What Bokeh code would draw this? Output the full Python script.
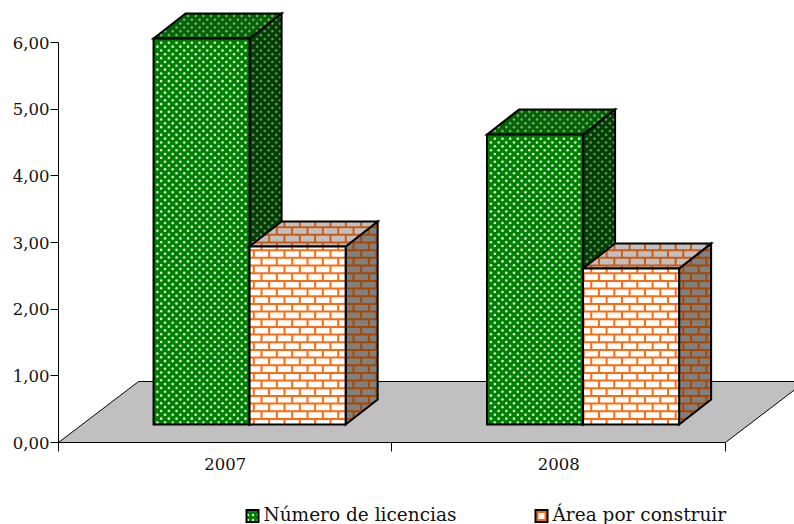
from bokeh.plotting import figure
from bokeh.layouts import column
from bokeh.embed import file_html
from bokeh.resources import INLINE
from bokeh.core.properties import value
from bokeh.models import FixedTicker

categories = ["2007", "2008"]
numero_licencias = [5.79, 4.35]
area_construir = [2.67, 2.34]
y_ticks = [0, 1, 2, 3, 4, 5, 6]
y_labels = ["0,00", "1,00", "2,00", "3,00", "4,00", "5,00", "6,00"]
series_labels = ["Número de licencias", "Área por construir"]

FONT = "DejaVu Serif"
BAR_W = 0.288
BAR_START = 0.285
BASE = 0.27
DX, DY = 0.096, 0.375
FLOOR_DX, FLOOR_DY = 0.24, 0.915
PX_X, PX_Y = 333.5, 66.667   # pixels per data unit
TILE = 7.67                  # pattern period in pixels
ORIGIN_X, ORIGIN_Y = 58, 442 # pixel position of the data origin


def to_px(x, y):
    return ORIGIN_X + x * PX_X, ORIGIN_Y - y * PX_Y


def to_data(sx, sy):
    return (sx - ORIGIN_X) / PX_X, (ORIGIN_Y - sy) / PX_Y


def clip_segment(a, b, poly):
    """Cyrus-Beck clip of the segment a-b to a convex polygon (pixel coordinates)."""
    t0, t1 = 0.0, 1.0
    n = len(poly)
    area = sum(poly[i][0] * poly[(i + 1) % n][1] - poly[(i + 1) % n][0] * poly[i][1] for i in range(n))
    sgn = 1 if area > 0 else -1
    for i in range(n):
        ex, ey = poly[(i + 1) % n][0] - poly[i][0], poly[(i + 1) % n][1] - poly[i][1]
        nx, ny = -ey * sgn, ex * sgn
        den = (b[0] - a[0]) * nx + (b[1] - a[1]) * ny
        num = (a[0] - poly[i][0]) * nx + (a[1] - poly[i][1]) * ny
        if den == 0:
            if num < 0:
                return None
        elif den > 0:
            t0 = max(t0, -num / den)
        else:
            t1 = min(t1, -num / den)
    if t0 >= t1:
        return None
    return ((a[0] + t0 * (b[0] - a[0]), a[1] + t0 * (b[1] - a[1])),
            (a[0] + t1 * (b[0] - a[0]), a[1] + t1 * (b[1] - a[1])))


def brick_lines(poly):
    xmin, xmax = min(q[0] for q in poly), max(q[0] for q in poly)
    ymin, ymax = min(q[1] for q in poly), max(q[1] for q in poly)
    segs = []
    k0 = int((ymin - 249.7) // TILE)
    k1 = int((ymax - 249.7) // TILE) + 1
    for k in range(k0, k1 + 1):
        y = 249.7 + k * TILE
        segs.append(((xmin, y), (xmax, y)))
        x_off = 253.3 if k % 2 == 0 else 261.0
        j0 = int((xmin - x_off) // (2 * TILE))
        j1 = int((xmax - x_off) // (2 * TILE)) + 1
        for j in range(j0, j1 + 1):
            x = x_off + j * 2 * TILE
            segs.append(((x, y), (x, y + TILE)))
    xs, ys = [], []
    for a, b in segs:
        c = clip_segment(a, b, poly)
        if c:
            d0, d1 = to_data(*c[0]), to_data(*c[1])
            xs.append([d0[0], d1[0]])
            ys.append([d0[1], d1[1]])
    return xs, ys


def inside(pt, poly, m=1.0):
    c = clip_segment((pt[0] - m, pt[1]), (pt[0] + m, pt[1]), poly)
    c2 = clip_segment((pt[0], pt[1] - m), (pt[0], pt[1] + m), poly)
    return bool(c and c2 and abs(c[1][0] - c[0][0] - 2 * m) < 1e-6 and abs(c2[1][1] - c2[0][1] - 2 * m) < 1e-6)


def dot_points(poly):
    xmin, xmax = min(q[0] for q in poly), max(q[0] for q in poly)
    ymin, ymax = min(q[1] for q in poly), max(q[1] for q in poly)
    xs, ys = [], []
    for ox, oy in ((160.7, 42.3), (156.87, 46.13)):
        for k in range(int((ymin - oy) // TILE), int((ymax - oy) // TILE) + 2):
            for j in range(int((xmin - ox) // TILE), int((xmax - ox) // TILE) + 2):
                pt = (ox + j * TILE, oy + k * TILE)
                if inside(pt, poly):
                    d = to_data(*pt)
                    xs.append(d[0])
                    ys.append(d[1])
    return xs, ys


p = figure(width=794, height=492, x_range=(0, 2.207), y_range=(0, 6.63),
           output_backend="svg", toolbar_location=None,
           min_border_left=58, min_border_right=0, min_border_top=0, min_border_bottom=50,
           outline_line_color=None, background_fill_color="white")
p.grid.visible = False

p.patch([0, FLOOR_DX, 2 + FLOOR_DX, 2], [0, FLOOR_DY, FLOOR_DY, 0],
        fill_color="#C0C0C0", line_color="black", line_width=1)


def face(xs, ys, fill, kind, col):
    p.patch(xs, ys, fill_color=fill, line_color=None)
    poly = [to_px(x, y) for x, y in zip(xs, ys)]
    if kind == "bricks":
        lx, ly = brick_lines(poly)
        p.multi_line(lx, ly, line_color=col, line_width=2, line_cap="butt")
    else:
        dx, dy = dot_points(poly)
        p.scatter(dx, dy, marker="circle", size=2.6, fill_color=col, line_color=None)
    p.patch(xs, ys, fill_color=None, line_color="black", line_width=2, line_join="miter")


def bars(x0, vals, fills, kind, cols):
    for i, v in enumerate(vals):
        l = i + x0
        r = l + BAR_W
        t = BASE + v
        face([r, r + DX, r + DX, r], [BASE, BASE + DY, t + DY, t], fills[2], kind, cols[2])
        face([l, l + DX, r + DX, r], [t, t + DY, t + DY, t], fills[1], kind, cols[1])
        face([l, r, r, l], [BASE, BASE, t, t], fills[0], kind, cols[0])


# drawn bar group by bar group so that each second bar covers its neighbour's side
for idx in range(2):
    bars(BAR_START + idx, [numero_licencias[idx]], ("#008000", "#006400", "#004000"), "dots",
         ("#D8F0D8", "#80A880", "#6C8C6C"))
    bars(BAR_START + idx + BAR_W, [area_construir[idx]], ("#FFFFFF", "#C0C0C0", "#808080"), "bricks",
         ("#FF6A10", "#CC5A14", "#A84800"))

ya = p.yaxis[0]
ya.ticker = FixedTicker(ticks=y_ticks)
ya.major_label_overrides = dict(zip(y_ticks, y_labels))
ya.bounds = (0, 6)
ya.major_tick_in = 0
ya.major_tick_out = 8
ya.minor_tick_out = 0
ya.minor_tick_in = 0
ya.major_label_standoff = 1
ya.major_label_text_font = FONT
ya.major_label_text_font_size = "16.5px"
ya.major_label_text_color = "#111111"

xa = p.xaxis[0]
xa.ticker = FixedTicker(ticks=[0.5, 1.5], minor_ticks=[0, 1, 2])
xa.major_label_overrides = {0.5: categories[0], 1.5: categories[1]}
xa.bounds = (0, 2)
xa.major_tick_in = 0
xa.major_tick_out = 0
xa.minor_tick_in = 0
xa.minor_tick_out = 9
xa.major_label_standoff = 13
xa.major_label_text_font = FONT
xa.major_label_text_font_size = "16.5px"
xa.major_label_text_color = "#111111"
xa.major_label_standoff = 6

# legend strip: its data units are page pixels; a column lines its frame up with the plot's (58 to 794)
q = figure(width=794, height=32, x_range=(58, 794), y_range=(524, 492), output_backend="svg",
           toolbar_location=None, min_border_left=0, min_border_right=0, min_border_top=0,
           min_border_bottom=0, outline_line_color=None, x_axis_type=None, y_axis_type=None)
q.grid.visible = False
q.quad(left=[246], right=[258], top=[509.5], bottom=[521.5], fill_color="#008000", line_color="black", line_width=2,
       line_join="miter", hatch_pattern="dot", hatch_color="#D8F0D8", hatch_scale=5)
q.quad(left=[535], right=[547], top=[509.5], bottom=[521.5], fill_color="#FF6A10", line_color="black", line_width=2,
       line_join="miter")
q.quad(left=[538], right=[544], top=[512.5], bottom=[518.5], fill_color="white", line_color=None)
q.text(x=[263, 552], y=[514, 514], text=series_labels, text_font=value(FONT), text_font_size="18.5px",
       text_baseline="middle", text_color="#111111")

open("out.html", "w").write(file_html(column(p, q, spacing=0), INLINE))
